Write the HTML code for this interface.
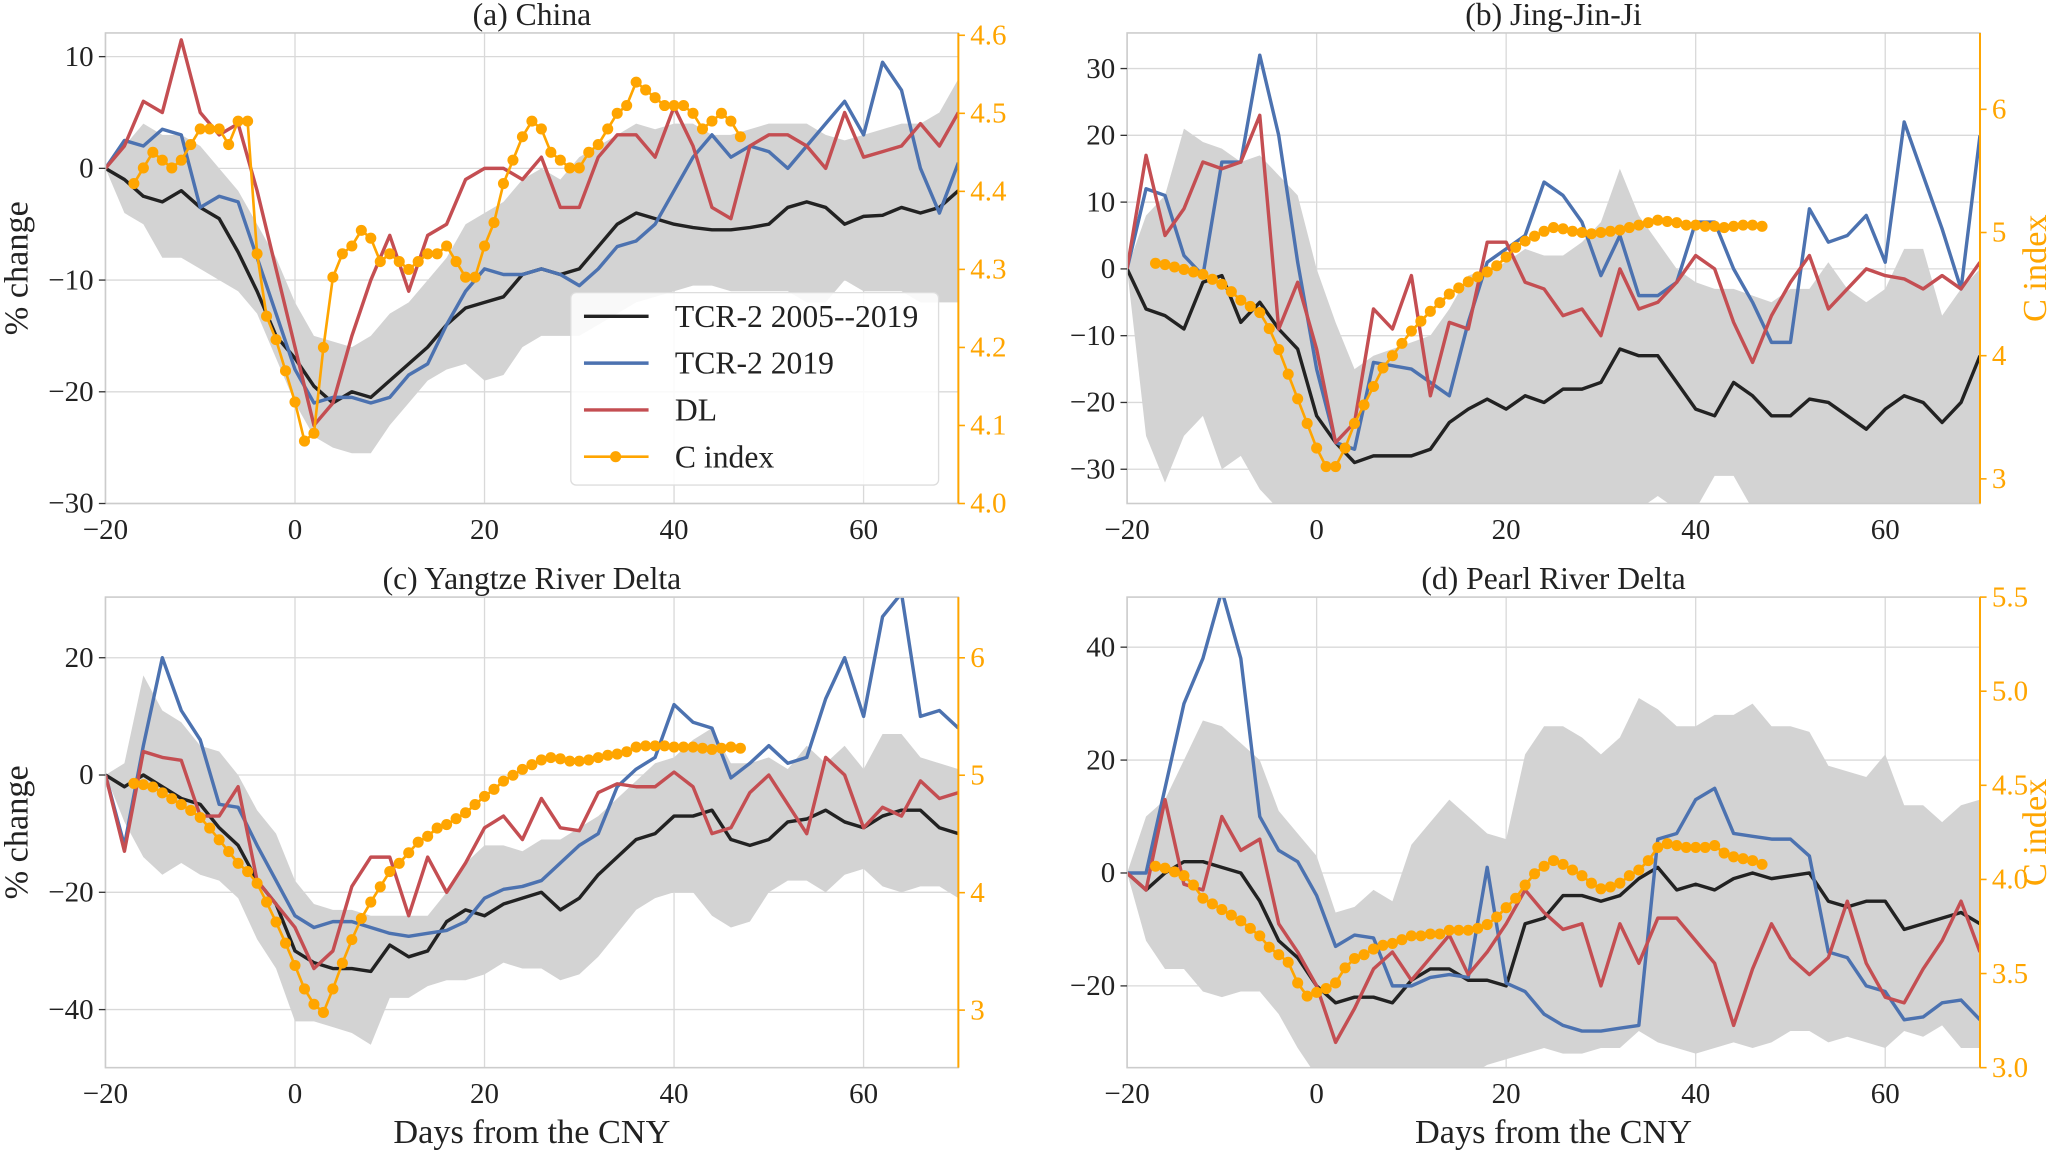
<!DOCTYPE html>
<html><head><meta charset="utf-8"><style>
html,body{margin:0;padding:0;background:#fff}
svg{display:block;font-family:"Liberation Serif",serif}
</style></head><body>
<svg id="fig" width="2067" height="1152" viewBox="0 0 1568 874" preserveAspectRatio="none" xmlns="http://www.w3.org/2000/svg"></svg>
<script>
const days=[-20,-18,-16,-14,-12,-10,-8,-6,-4,-2,0,2,4,6,8,10,12,14,16,18,20,22,24,26,28,30,32,34,36,38,40,42,44,46,48,50,52,54,56,58,60,62,64,66,68,70];
const cDays=[];for(let d=-17;d<=47;d++)cDays.push(d);
// (a) China
const aBlack=[0,-1,-2.5,-3,-2,-3.5,-4.5,-7.5,-11,-15,-17,-19.5,-21,-20,-20.5,-19,-17.5,-16,-14,-12.5,-12,-11.5,-9.5,-9,-9.5,-9,-7,-5,-4,-4.5,-5,-5.3,-5.5,-5.5,-5.3,-5,-3.5,-3,-3.5,-5,-4.3,-4.2,-3.5,-4,-3.5,-2];
const aBlue=[0,2.5,2,3.5,3,-3.5,-2.5,-3,-8,-13,-18,-21,-20.5,-20.5,-21,-20.5,-18.5,-17.5,-14,-11,-9,-9.5,-9.5,-9,-9.5,-10.5,-9,-7,-6.5,-5,-2,1,3,1,2,1.5,0,2,4,6,3,9.5,7,0,-4,0.5];
const aRed=[0,2,6,5,11.5,5,3,4,-2,-9,-16,-23,-21,-15,-10,-6,-11,-6,-5,-1,0,0,-1,1,-3.5,-3.5,1,3,3,1,5.5,2,-3.5,-4.5,2,3,3,2,0,5,1,1.5,2,4,2,5];
const aUpper=[0,2,4,3,3,2,0,-2,-5,-8,-12,-15,-15.5,-16,-15,-13,-12,-10,-8,-5,-4,-3,-1,0,-1,1,2,3,4,3.5,4,4,3,3,3.5,4,4,4,3,2.5,3,3.5,4,4,5,8];
const aLower=[0,-4,-5,-8,-8,-9,-10,-11,-13,-17,-21,-24,-25,-25.5,-25.5,-23,-21,-19,-18,-17.5,-19,-18.5,-16,-15,-15,-15,-14,-13,-12,-11.5,-11,-10.5,-10.5,-11,-11,-11,-11,-12,-12,-10,-11,-11,-11,-12,-12,-12];
const aC=[4.41,4.43,4.45,4.44,4.43,4.44,4.46,4.48,4.48,4.48,4.46,4.49,4.49,4.32,4.24,4.21,4.17,4.13,4.08,4.09,4.20,4.29,4.32,4.33,4.35,4.34,4.31,4.32,4.31,4.30,4.31,4.32,4.32,4.33,4.31,4.29,4.29,4.33,4.36,4.41,4.44,4.47,4.49,4.48,4.45,4.44,4.43,4.43,4.45,4.46,4.48,4.50,4.51,4.54,4.53,4.52,4.51,4.51,4.51,4.50,4.48,4.49,4.50,4.49,4.47];
// (b) Jing-Jin-Ji
const bBlack=[0,-6,-7,-9,-2,-1,-8,-5,-9,-12,-22,-26,-29,-28,-28,-28,-27,-23,-21,-19.5,-21,-19,-20,-18,-18,-17,-12,-13,-13,-17,-21,-22,-17,-19,-22,-22,-19.5,-20,-22,-24,-21,-19,-20,-23,-20,-13];
const bBlue=[0,12,11,2,-1,16,16,32,20,1,-15,-26,-27,-14,-14.5,-15,-17,-19,-8,1,3,5,13,11,7,-1,5,-4,-4,-2,7,7,0,-5,-11,-11,9,4,5,8,1,22,14,6,-3,20];
const bRed=[0,17,5,9,16,15,16,23,-9,-2,-12,-26,-23,-6,-9,-1,-19,-8,-9,4,4,-2,-3,-7,-6,-10,0,-6,-5,-2,2,0,-8,-14,-7,-2,2,-6,-3,0,-1,-1.5,-3,-1,-3,1];
const bUpper=[0,8,11,21,19,18,16,17,14,11,0,-8,-15,-13,-12,-11,-10,-6,-1,0,1,3,2,2,4,7,15,8,4,0,-2,-3,-3,-4,-5,-3,-3,1,-3,-5,-3,3,3,-7,-3,0];
const bLower=[0,-25,-32,-25,-22,-30,-28,-33,-36,-36,-36,-36,-36,-36,-36,-36,-36,-36,-36,-36,-36,-36,-36,-36,-36,-36,-36,-36,-34,-36,-36,-31,-31,-36,-36,-36,-36,-36,-36,-36,-36,-36,-36,-36,-36,-36];
const bC=[4.75,4.74,4.72,4.70,4.68,4.66,4.62,4.58,4.52,4.45,4.40,4.35,4.22,4.05,3.85,3.65,3.45,3.25,3.10,3.10,3.25,3.45,3.60,3.75,3.90,4.00,4.10,4.20,4.28,4.36,4.43,4.50,4.55,4.60,4.64,4.68,4.73,4.80,4.88,4.93,4.97,5.01,5.04,5.03,5.01,5.00,4.99,5.00,5.01,5.02,5.04,5.06,5.08,5.10,5.09,5.08,5.06,5.06,5.05,5.05,5.04,5.05,5.06,5.06,5.05];
// (c) Yangtze River Delta
const cBlack=[0,-2,0,-2,-4,-5,-9,-12,-18,-22,-30,-32,-33,-33,-33.5,-29,-31,-30,-25,-23,-24,-22,-21,-20,-23,-21,-17,-14,-11,-10,-7,-7,-6,-11,-12,-11,-8,-7.5,-6,-8,-9,-7,-6,-6,-9,-10];
const cBlue=[0,-12,5,20,11,6,-5,-5.5,-12,-18,-24,-26,-25,-25,-26,-27,-27.5,-27,-26.5,-25,-21,-19.5,-19,-18,-15,-12,-10,-2,1,3,12,9,8,-0.5,2,5,2,3,13,20,10,27,31,10,11,8];
const cRed=[0,-13,4,3,2.5,-7,-7,-2,-18,-22,-26,-33,-30,-19,-14,-14,-24,-14,-20,-15,-9,-7,-11,-4,-9,-9.5,-3,-1.5,-2,-2,0.5,-2,-10,-9,-3,0,-5,-10,3,0,-9,-5.5,-7,-1,-4,-3];
const cUpper=[0,2,17,11,9,5,4,0,-6,-10,-18,-22,-23,-23,-24,-24,-24,-24,-20,-15,-12,-12,-13,-11,-11,-9,-7,-4,-1,2,3,6,8,2,2,3,1,5,2,5,1,7,7,3,2,1];
const cLower=[0,-8,-14,-17,-15,-17,-18,-21,-28,-33,-42,-42,-43,-44,-46,-38,-38,-36,-35,-35,-34,-32,-33,-33,-35,-34,-31,-27,-23,-21,-20,-20,-24,-26,-25,-20,-18,-18,-20,-17,-16,-19,-20,-19,-19,-21];
const cC=[4.93,4.92,4.90,4.85,4.80,4.75,4.70,4.64,4.55,4.45,4.35,4.25,4.18,4.08,3.92,3.75,3.57,3.38,3.18,3.05,2.98,3.18,3.40,3.60,3.78,3.92,4.05,4.18,4.25,4.34,4.43,4.48,4.55,4.58,4.63,4.68,4.75,4.82,4.88,4.95,5.00,5.05,5.09,5.13,5.15,5.14,5.12,5.12,5.13,5.15,5.17,5.18,5.20,5.24,5.25,5.25,5.25,5.24,5.24,5.24,5.23,5.22,5.23,5.24,5.23];
// (d) Pearl River Delta
const dBlack=[0,-3,0,2,2,1,0,-5,-12,-15,-20,-23,-22,-22,-23,-19,-17,-17,-19,-19,-20,-9,-8,-4,-4,-5,-4,-1,1,-3,-2,-3,-1,0,-1,-0.5,0,-5,-6,-5,-5,-10,-9,-8,-7,-9];
const dBlue=[0,0,15,30,38,50,38,10,4,2,-4,-13,-11,-11.5,-20,-20,-18.5,-18,-18.5,1,-19.5,-21,-25,-27,-28,-28,-27.5,-27,6,7,13,15,7,6.5,6,6,3,-14,-15,-20,-21,-26,-25.5,-23,-22.5,-26];
const dRed=[0,-3,13,-2,-3,10,4,6,-9,-14,-20,-30,-24,-17,-14,-19,-15,-11,-18,-14,-9,-3,-7,-10,-9,-20,-9,-16,-8,-8,-12,-16,-27,-17,-9,-15,-18,-15,-5,-16,-22,-23,-17,-12,-5,-14];
const dUpper=[0,10,13,20,27,26,23,20,11,7,3,-7,-6,-3,-5,5,9,13,10,7,6,21,26,26,24,21,24,31,29,26,26,28,28,30,26,26,25,19,18,17,21,12,12,9,12,13];
const dLower=[0,-12,-17,-17,-21,-22,-21,-21,-25,-31,-36,-36,-36,-36,-36,-36,-36,-36,-36,-34,-33,-32,-31,-32,-32,-31,-31,-28,-30,-31,-32,-31,-30,-31,-30,-28,-28,-30,-29,-30,-31,-28,-29,-27,-31,-31];
const dC=[4.07,4.06,4.04,4.02,3.97,3.90,3.87,3.84,3.81,3.78,3.74,3.70,3.64,3.60,3.56,3.45,3.38,3.40,3.42,3.45,3.53,3.58,3.60,3.63,3.65,3.66,3.68,3.70,3.70,3.71,3.71,3.73,3.73,3.73,3.74,3.76,3.80,3.85,3.90,3.97,4.03,4.07,4.10,4.08,4.05,4.02,3.98,3.95,3.96,3.98,4.02,4.05,4.10,4.17,4.19,4.18,4.17,4.17,4.17,4.18,4.14,4.12,4.11,4.10,4.08];

const xTicks=[-20,0,20,40,60];
const aYTicks=[10,0,-10,-20,-30], aRTicks=[4.0,4.1,4.2,4.3,4.4,4.5,4.6];
const bYTicks=[30,20,10,0,-10,-20,-30], bRTicks=[3,4,5,6];
const cYTicks=[20,0,-20,-40], cRTicks=[3,4,5,6];
const dYTicks=[40,20,0,-20], dRTicks=[3.0,3.5,4.0,4.5,5.0,5.5];

const NS="http://www.w3.org/2000/svg";
const svg=document.getElementById('fig');
function el(tag,attrs,parent,text){const e=document.createElementNS(NS,tag);for(const k in attrs)e.setAttribute(k,attrs[k]);if(text!==undefined)e.textContent=text;(parent||svg).appendChild(e);return e;}
const ORANGE="#FFA500";
function minus(v){return String(v).replace('-','\u2212');}

function panel(key,cfg){
  const {L,R,T,B,y0,y1,r0,r1,title,yTicks,rTicks,rFmt,upper,lower,black,blue,red,cidx,ylabel,rlabel,xlabel}=cfg;
  const g=el('g',{},svg);
  
  
  const sx=d=>L+(d+20)*(R-L)/90;
  const sy=v=>B-(v-y0)*(B-T)/(y1-y0);
  const sr=v=>B-(v-r0)*(B-T)/(r1-r0);
  const cp=el('clipPath',{id:'clip'+key},g);el('rect',{x:L,y:T,width:R-L,height:B-T},cp);
  // grid
  xTicks.forEach(t=>{const ln=el('line',{x1:sx(t),x2:sx(t),y1:T,y2:B,stroke:'#d9d9d9','stroke-width':1},g);
    });
  yTicks.forEach(t=>{const ln=el('line',{x1:L,x2:R,y1:sy(t),y2:sy(t),stroke:'#d9d9d9','stroke-width':1},g);
    });
  const pg=el('g',{'clip-path':'url(#clip'+key+')'},g);
  // band
  let pts=days.map((d,i)=>sx(d)+','+sy(upper[i]));
  for(let i=days.length-1;i>=0;i--)pts.push(sx(days[i])+','+sy(lower[i]));
  const band=el('polygon',{points:pts.join(' '),fill:'#d3d3d3',stroke:'none'},pg);
  
  
  function line(vals,color,name){
    const p=el('polyline',{points:days.map((d,i)=>sx(d)+','+sy(vals[i])).join(' '),fill:'none',stroke:color,'stroke-width':2.6,'stroke-linejoin':'round'},pg);
    
    
  }
  line(black,'#222222','tcr2-2005-2019-line');
  line(blue,'#4C72B0','tcr2-2019-line');
  line(red,'#C44E52','dl-line');
  const cl=el('polyline',{points:cDays.map((d,i)=>sx(d)+','+sr(cidx[i])).join(' '),fill:'none',stroke:ORANGE,'stroke-width':2},pg);
  
  
  cDays.forEach((d,i)=>{const c=el('circle',{cx:sx(d),cy:sr(cidx[i]),r:4.2,fill:ORANGE},pg);
    
    });
  // frame
  const fr=el('rect',{x:L,y:T,width:R-L,height:B-T,fill:'none',stroke:'#cccccc','stroke-width':1.2},g);
  
  const rs=el('line',{x1:R,x2:R,y1:T,y2:B,stroke:ORANGE,'stroke-width':1.5},g);
  
  // ticks
  xTicks.forEach(t=>{const tx=el('text',{x:sx(t),y:B+27,'text-anchor':'middle','font-size':22,fill:'#222'},g,minus(t));
    });
  yTicks.forEach(t=>{el('line',{x1:L-5,x2:L,y1:sy(t),y2:sy(t),stroke:'#333','stroke-width':1},g);
    const tx=el('text',{x:L-9,y:sy(t)+7,'text-anchor':'end','font-size':22,fill:'#222'},g,minus(t));
    });
  rTicks.forEach(t=>{el('line',{x1:R,x2:R+5,y1:sr(t),y2:sr(t),stroke:ORANGE,'stroke-width':1.2},g);
    const tx=el('text',{x:R+9,y:sr(t)+7,'font-size':22,fill:ORANGE},g,rFmt(t));
    });
  const tt=el('text',{x:(L+R)/2,y:T-6,'text-anchor':'middle','font-size':24,fill:'#222'},g,title);
  
  if(ylabel){const yl=el('text',{x:0,y:0,transform:`translate(21,${(T+B)/2}) rotate(-90)`,'text-anchor':'middle','font-size':26,fill:'#222'},g,'% change');
    }
  if(rlabel){const rl=el('text',{x:0,y:0,transform:`translate(${R+50},${(T+B)/2}) rotate(-90)`,'text-anchor':'middle','font-size':26,fill:ORANGE},g,'C index');
    }
  if(xlabel){const xl=el('text',{x:(L+R)/2,y:B+57,'text-anchor':'middle','font-size':26,fill:'#222'},g,'Days from the CNY');
    }
  return g;
}
const f1=t=>t.toFixed(1), f0=t=>String(t);
panel('a',{L:80,R:727,T:25,B:382,y0:-30,y1:12.12,r0:4.0,r1:4.603,title:'(a) China',yTicks:aYTicks,rTicks:aRTicks,rFmt:f1,upper:aUpper,lower:aLower,black:aBlack,blue:aBlue,red:aRed,cidx:aC,ylabel:true});
panel('b',{L:855,R:1502,T:25,B:382,y0:-35.13,y1:35.33,r0:2.80,r1:6.62,title:'(b) Jing-Jin-Ji',yTicks:bYTicks,rTicks:bRTicks,rFmt:f0,upper:bUpper,lower:bLower,black:bBlack,blue:bBlue,red:bRed,cidx:bC,rlabel:true});
panel('c',{L:80,R:727,T:453,B:810,y0:-49.9,y1:30.34,r0:2.51,r1:6.517,title:'(c) Yangtze River Delta',yTicks:cYTicks,rTicks:cRTicks,rFmt:f0,upper:cUpper,lower:cLower,black:cBlack,blue:cBlue,red:cRed,cidx:cC,ylabel:true,xlabel:true});
panel('d',{L:855,R:1502,T:453,B:810,y0:-34.48,y1:48.87,r0:3.0,r1:5.5,title:'(d) Pearl River Delta',yTicks:dYTicks,rTicks:dRTicks,rFmt:f1,upper:dUpper,lower:dLower,black:dBlack,blue:dBlue,red:dRed,cidx:dC,rlabel:true,xlabel:true});

// legend
const lg=el('g',{},svg);


el('rect',{x:433,y:222,width:279,height:146,rx:4,fill:'#ffffff','fill-opacity':0.85,stroke:'#dddddd','stroke-width':1},lg);
const legNames=['TCR-2 2005--2019','TCR-2 2019','DL','C index'];
const legColors=['#222222','#4C72B0','#C44E52',ORANGE];
legNames.forEach((n,i)=>{
  const y=240+i*35.5;
  const e=el('g',{},lg);
  
  
  el('line',{x1:443,x2:492,y1:y,y2:y,stroke:legColors[i],'stroke-width':i==3?2:2.6},e);
  if(i==3)el('circle',{cx:467,cy:y,r:4.2,fill:ORANGE},e);
  el('text',{x:512,y:y+8,'font-size':24,fill:'#222'},e,n);
});
</script>
</body></html>
